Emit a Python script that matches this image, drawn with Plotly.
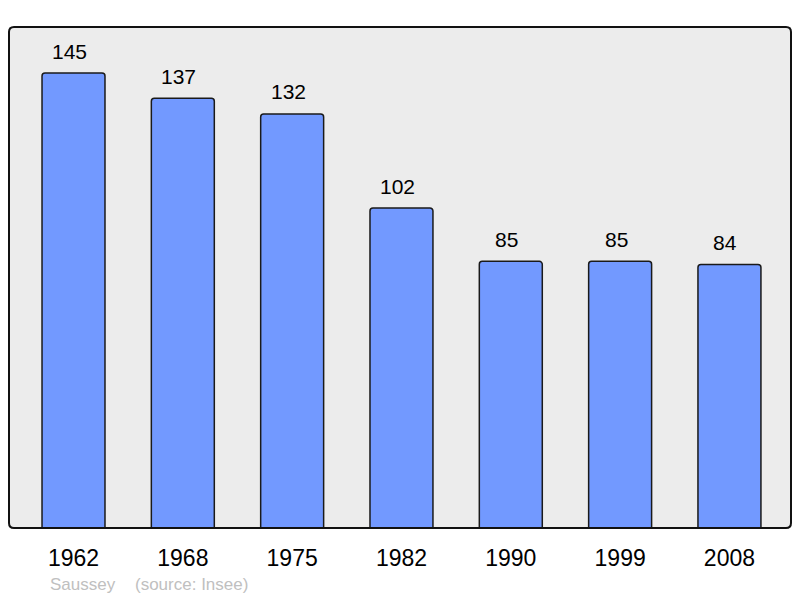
import plotly.graph_objects as go

years = ["1962", "1968", "1975", "1982", "1990", "1999", "2008"]
population = [145, 137, 132, 102, 85, 85, 84]
commune = "Saussey"
source = "(source: Insee)"

FONT = "Liberation Sans, Arial, sans-serif"
xpos = list(range(len(years)))

fig = go.Figure()
fig.add_trace(go.Bar(
    x=xpos, y=population, width=0.576,
    marker=dict(color="#7299ff", line=dict(color="#1a1a1a", width=1.5), cornerradius=3),
    hoverinfo="skip",
))

for x, v in zip(xpos, population):
    fig.add_annotation(x=x, y=v, text=str(v), showarrow=False, yshift=22, xshift=-4,
                       yanchor="middle", font=dict(family=FONT, size=21, color="#000"))

fig.add_annotation(xref="paper", yref="paper", x=0.0495, y=0, yshift=-56, xanchor="left",
                   yanchor="middle", text=commune, showarrow=False,
                   font=dict(family=FONT, size=17, color="#c0c0c0"))
fig.add_annotation(xref="paper", yref="paper", x=0.158, y=0, yshift=-56, xanchor="left",
                   yanchor="middle", text=source, showarrow=False,
                   font=dict(family=FONT, size=17, color="#c0c0c0"))

# rounded frame
rx, ry = 5 / 782, 5 / 501
path = (f"M {rx},0 L {1-rx},0 Q 1,0 1,{ry} L 1,{1-ry} Q 1,1 {1-rx},1 "
        f"L {rx},1 Q 0,1 0,{1-ry} L 0,{ry} Q 0,0 {rx},0 Z")
fig.add_shape(type="path", xref="paper", yref="paper", path=path,
              line=dict(color="#111", width=2), layer="above")

fig.update_layout(
    width=800, height=598,
    margin=dict(l=9, r=9, t=27, b=70),
    paper_bgcolor="white", plot_bgcolor="#ececec",
    showlegend=False,
    xaxis=dict(range=[-0.59, 6.563], tickvals=xpos, ticktext=years, showgrid=False,
               zeroline=False, ticks="outside", ticklen=9, tickcolor="rgba(0,0,0,0)",
               tickfont=dict(family=FONT, size=23, color="#000"), fixedrange=True),
    yaxis=dict(range=[0, 159.7], showgrid=False, zeroline=False, showticklabels=False,
               fixedrange=True),
)

fig.write_html("out.html", config={"displayModeBar": False},
               post_script="document.body.style.margin='0';")
